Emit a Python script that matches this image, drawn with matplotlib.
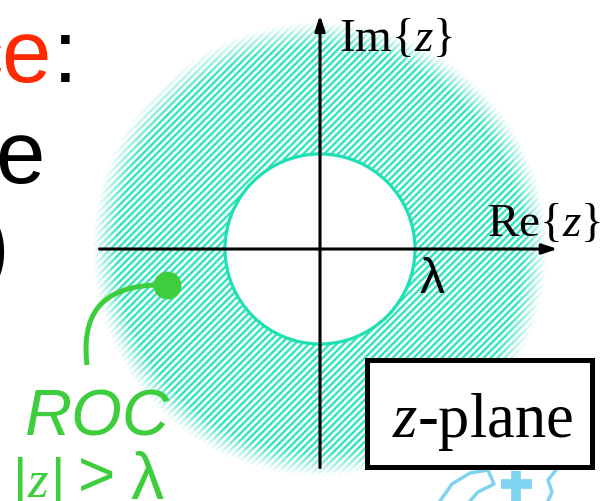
import numpy as np
import matplotlib.pyplot as plt
from matplotlib.patches import Circle, Rectangle, PathPatch
from matplotlib.path import Path

# --- values of the diagram (units of lambda) ---
lam = 1.0                      # radius of the inner circle |z| = lambda
roc_solid = 2.14               # hatching fully visible up to here
roc_fade = 2.40                # hatching has faded out here
re_axis = (-2.35, 2.53)        # extent of the Re{z} axis
im_axis = (-2.33, 2.49)        # extent of the Im{z} axis
stripe_period = 7 / 95.0       # hatch spacing

# connector from the ROC label to the region
link_pts = [(167, 285), (95, 283), (82, 320), (87, 365)]

# light blue logo fragment at the bottom edge
logo_cross = [(516, 471, 516, 501), (501, 484, 532, 484)]
logo_outline = [(440, 501), (452, 484), (470, 473), (488, 470), (494, 484), (478, 492), (470, 501)]
logo_arc = [(556, 470), (548, 480), (552, 492), (548, 501)]

SC = 95.0          # pixels per unit
CX, CY = 320, 249  # pixel position of the origin
W, H = 602, 501


def P(px, py):
    return (px - CX) / SC, (CY - py) / SC


green = '#3dcd3d'
teal = '#1ee0b4'
red = '#ff2a00'
logo_blue = '#7fd3f0'
sans = 'Liberation Sans'
serif = 'Liberation Serif'
plt.rcParams['mathtext.fontset'] = 'custom'
plt.rcParams['mathtext.rm'] = serif
plt.rcParams['mathtext.it'] = serif + ':italic'

fig = plt.figure(figsize=(W / 100, H / 100), dpi=100)
ax = fig.add_axes([0, 0, 1, 1])
x0, y1 = P(0, 0)
x1, y0 = P(W, H)
ax.set_xlim(x0, x1)
ax.set_ylim(y0, y1)
ax.axis('off')

# hatched region of convergence with soft outer edge
xs = np.linspace(x0, x1, W)
ys = np.linspace(y1, y0, H)
X, Y = np.meshgrid(xs, ys)
R = np.hypot(X, Y)
phase = ((X - Y) / stripe_period) % 1.0
stripe = np.clip(0.5 + 0.5 * np.cos(2 * np.pi * phase), 0, 1) ** 1.3
fade = np.clip((roc_fade - R) / (roc_fade - roc_solid), 0, 1)
img = np.zeros((H, W, 4))
img[..., 0], img[..., 1], img[..., 2] = 0.12, 0.88, 0.71
img[..., 3] = stripe * fade * (R > lam)
ax.imshow(img, extent=(x0, x1, y0, y1), origin='upper', interpolation='nearest', zorder=1)

ax.add_patch(Circle((0, 0), lam, facecolor='white', edgecolor=teal, lw=2.3, zorder=2))

# axes with arrows
head = '-|>,head_length=0.9,head_width=0.3'
ax.annotate('', xy=(re_axis[1], 0), xytext=(re_axis[0], 0),
            arrowprops=dict(arrowstyle=head, lw=2.2, color='black'), zorder=3)
ax.annotate('', xy=(0, im_axis[1]), xytext=(0, im_axis[0]),
            arrowprops=dict(arrowstyle=head, lw=2.2, color='black'), zorder=3)

ax.text(*P(487, 236), r'$\mathrm{Re}\{z\}$', fontsize=34, ha='left', va='baseline', zorder=4)
ax.text(*P(339, 51), r'$\mathrm{Im}\{z\}$', fontsize=34, ha='left', va='baseline', zorder=4)
ax.text(*P(420, 293), 'λ', fontsize=36, family=sans, ha='left', va='baseline', zorder=4)

# z-plane box
bx0, by1 = P(367, 360)
bx1, by0 = P(592, 467)
ax.add_patch(Rectangle((bx0, by0), bx1 - bx0, by1 - by0, facecolor='white',
                       edgecolor='black', lw=3.6, zorder=4))
ax.text(*P(392, 437), r'$z\mathrm{\text{-}plane}$', fontsize=45, ha='left', va='baseline', zorder=5)

# slide text cut off at the left
ax.text(*P(3, 82), 'c', fontsize=64, family=sans, color=red, ha='right', va='baseline', zorder=4)
ax.text(*P(51, 82), 'e', fontsize=64, family=sans, color=red, ha='right', va='baseline', zorder=4)
ax.text(*P(53, 82), ':', fontsize=64, family=sans, color='black', ha='left', va='baseline', zorder=4)
ax.text(*P(45, 183), 'e', fontsize=64, family=sans, color='black', ha='right', va='baseline', zorder=4)
ax.text(*P(9, 252), ')', fontsize=64, family=sans, color='black', ha='right', va='center', zorder=4)

# ROC label with connector
verts = [P(*p) for p in link_pts]
ax.add_patch(PathPatch(Path(verts, [Path.MOVETO, Path.CURVE4, Path.CURVE4, Path.CURVE4]),
                       facecolor='none', edgecolor=green, lw=3.6, capstyle='butt', zorder=4))
ax.plot(*verts[0], 'o', color=green, markersize=19, zorder=5)
ax.text(*P(25, 435), 'ROC', fontsize=47, family=sans, style='italic', color=green,
        ha='left', va='baseline', zorder=4)
ax.text(*P(13, 497), '|', fontsize=40, family=sans, color=green, ha='left', va='baseline', zorder=4)
ax.text(*P(28, 497), 'z', fontsize=38, family=serif, style='italic', color=green,
        ha='left', va='baseline', zorder=4)
ax.text(*P(51, 497), '|', fontsize=40, family=sans, color=green, ha='left', va='baseline', zorder=4)
ax.text(*P(78, 497), '>', fontsize=46, family=sans, color=green, ha='left', va='baseline', zorder=4)
ax.text(*P(131, 499), 'λ', fontsize=48, family=sans, color=green, ha='left', va='baseline', zorder=4)

# logo fragment
for xa, ya, xb, yb in logo_cross:
    ax.plot([P(xa, ya)[0], P(xb, yb)[0]], [P(xa, ya)[1], P(xb, yb)[1]],
            color=logo_blue, lw=7, solid_capstyle='butt', zorder=1)
for shape in (logo_outline, logo_arc):
    ox, oy = zip(*[P(*p) for p in shape])
    ax.plot(ox, oy, color=logo_blue, lw=2.5, zorder=1)

fig.savefig('out.png', dpi=100)
